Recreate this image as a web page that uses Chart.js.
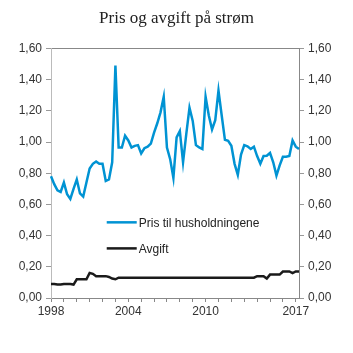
<!DOCTYPE html>
<html>
<head>
<meta charset="utf-8">
<script src="https://cdn.jsdelivr.net/npm/chart.js@4/dist/chart.umd.min.js"></script>
<style>
  html, body { margin: 0; padding: 0; background: #fff; }
  #wrap { width: 353px; height: 353px; }
</style>
</head>
<body>
<div id="wrap"><canvas id="chart" width="353" height="353"></canvas></div>
<script>
// quarterly, 1998K1 - 2017K2
const years = [1998, 1999, 2000, 2001, 2002, 2003, 2004, 2005, 2006, 2007,
               2008, 2009, 2010, 2011, 2012, 2013, 2014, 2015, 2016, 2017];
const labeledYears = [1998, 2004, 2010, 2017];

const pris = [
  0.78, 0.73, 0.69, 0.68, 0.74, 0.665, 0.635, 0.70, 0.76, 0.67,
  0.65, 0.74, 0.83, 0.86, 0.875, 0.86, 0.86, 0.75, 0.76, 0.87,
  1.49, 0.965, 0.965, 1.04, 1.01, 0.965, 0.975, 0.98, 0.927, 0.96,
  0.97, 0.99, 1.06, 1.12, 1.19, 1.29, 0.965, 0.89, 0.77, 1.03,
  1.07, 0.87, 1.05, 1.22, 1.135, 0.98, 0.965, 0.955, 1.29, 1.17,
  1.08, 1.14, 1.33, 1.17, 1.014, 1.008, 0.976, 0.86, 0.79, 0.92,
  0.98, 0.972, 0.955, 0.97, 0.91, 0.86, 0.91, 0.912, 0.93, 0.87,
  0.785, 0.85, 0.905, 0.905, 0.91, 1.01, 0.97, 0.955
];

const avgift = [
  0.09, 0.09, 0.086, 0.086, 0.09, 0.09, 0.09, 0.086, 0.12, 0.12,
  0.12, 0.12, 0.16, 0.155, 0.14, 0.14, 0.14, 0.14, 0.135, 0.125,
  0.12, 0.13, 0.13, 0.13, 0.13, 0.13, 0.13, 0.13, 0.13, 0.13,
  0.13, 0.13, 0.13, 0.13, 0.13, 0.13, 0.13, 0.13, 0.13, 0.13,
  0.13, 0.13, 0.13, 0.13, 0.13, 0.13, 0.13, 0.13, 0.13, 0.13,
  0.13, 0.13, 0.13, 0.13, 0.13, 0.13, 0.13, 0.13, 0.13, 0.13,
  0.13, 0.13, 0.13, 0.13, 0.14, 0.14, 0.14, 0.125, 0.15, 0.15,
  0.15, 0.15, 0.17, 0.17, 0.17, 0.16, 0.17, 0.17
];

const labels = [];
years.forEach(y => {
  for (let q = 1; q <= 4; q++) labels.push(y + 'K' + q);
});
labels.length = pris.length;

const fmt = v => v.toFixed(2).replace('.', ',');
const tickFont = { family: 'Liberation Sans, Arial, sans-serif', size: 12 };

// legend drawn inside the plot area
const innerLegend = {
  id: 'innerLegend',
  afterDatasetsDraw(chart) {
    const ctx = chart.ctx;
    const x0 = chart.scales.x.getPixelForValue(17.3);
    const rows = [chart.scales.y.getPixelForValue(0.485), chart.scales.y.getPixelForValue(0.318)];
    ctx.save();
    chart.data.datasets.forEach((ds, i) => {
      const y = rows[i];
      ctx.strokeStyle = ds.borderColor;
      ctx.lineWidth = ds.borderWidth;
      ctx.beginPath();
      ctx.moveTo(x0, y);
      ctx.lineTo(x0 + 30, y);
      ctx.stroke();
      ctx.fillStyle = '#222';
      ctx.font = '12px Liberation Sans, Arial, sans-serif';
      ctx.textBaseline = 'middle';
      ctx.fillText(ds.label, x0 + 32, y + 1);
    });
    ctx.restore();
  }
};

new Chart(document.getElementById('chart'), {
  type: 'line',
  data: {
    labels: labels,
    datasets: [
      { label: 'Pris til husholdningene', data: pris, borderColor: '#0093d3', borderWidth: 2.5, yAxisID: 'y' },
      { label: 'Avgift', data: avgift, borderColor: '#1a1a1a', borderWidth: 2.5, yAxisID: 'y' }
    ]
  },
  options: {
    responsive: false,
    animation: false,
    events: [],
    elements: { point: { radius: 0 }, line: { tension: 0 } },
    layout: { padding: { left: 0, right: 0, top: 0, bottom: 0 } },
    plugins: {
      legend: { display: false },
      tooltip: { enabled: false },
      title: {
        display: true,
        text: 'Pris og avgift på strøm',
        font: { family: 'Liberation Serif, Times New Roman, serif', size: 17, weight: 'normal' },
        color: '#222',
        padding: { top: 8, bottom: 20 }
      }
    },
    scales: {
      x: {
        type: 'category',
        offset: false,
        border: { color: '#888', width: 1 },
        grid: {
          drawOnChartArea: false,
          drawTicks: true,
          tickLength: 4,
          color: '#888'
        },
        ticks: {
          autoSkip: false,
          maxRotation: 0,
          padding: 2,
          font: tickFont,
          color: '#333',
          callback: function (v, i) {
            const lab = labels[i];
            if (!lab.endsWith('K1')) return null;
            const yr = parseInt(lab, 10);
            return labeledYears.includes(yr) ? String(yr) : '';
          }
        },
        afterFit: s => { s.height = 55; }
      },
      xTop: {
        type: 'category',
        position: 'top',
        offset: false,
        border: { color: '#888', width: 1 },
        grid: { display: false, drawTicks: false },
        ticks: { display: false },
        afterFit: s => { s.height = 0; }
      },
      y: {
        position: 'left',
        min: 0, max: 1.6,
        border: { color: '#bbb', width: 1 },
        grid: { drawOnChartArea: false, drawTicks: true, tickLength: 5, color: '#999' },
        ticks: { stepSize: 0.2, padding: 4, font: tickFont, color: '#333', callback: v => fmt(v) },
        afterFit: s => { s.width = 51; }
      },
      y2: {
        position: 'right',
        min: 0, max: 1.6,
        border: { color: '#888', width: 1 },
        grid: { drawOnChartArea: false, drawTicks: true, tickLength: 5, color: '#999' },
        ticks: { stepSize: 0.2, padding: 4, font: tickFont, color: '#333', callback: v => fmt(v) },
        afterFit: s => { s.width = 54; }
      }
    }
  },
  plugins: [innerLegend]
});
</script>
</body>
</html>
